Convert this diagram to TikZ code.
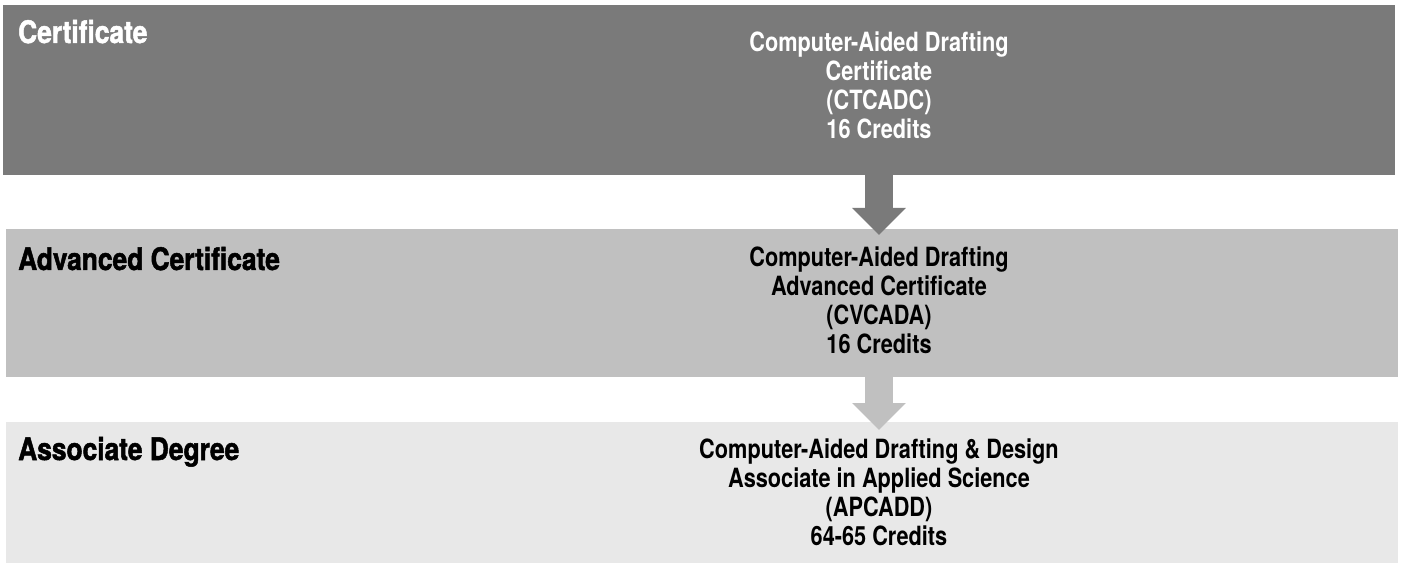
\documentclass[tikz,border=0pt]{standalone}
\usepackage{fontspec}
\setmainfont{TeX Gyre Heros}[FakeStretch=0.82]
\newfontfamily\headfont{TeX Gyre Heros}[FakeStretch=0.85, BoldFeatures={FakeBold=1.6}]
\usetikzlibrary{calc,arrows.meta}
\definecolor{certgray}{HTML}{7A7A7A}
\definecolor{advgray}{HTML}{C0C0C0}
\definecolor{assocgray}{HTML}{E8E8E8}
\tikzset{
  band/.style={draw=none, rectangle, inner sep=0pt, anchor=north west, minimum width=1392pt},
  head/.style={anchor=base west, inner sep=0pt, font=\headfont\bfseries\fontsize{31}{36}\selectfont},
  body/.style={anchor=north, inner sep=0pt, align=center, font=\bfseries\fontsize{26.5}{29}\selectfont},
  blockarrow/.style={draw=#1, line width=28pt, -{Triangle[width=52pt,length=27pt]}}
}

\begin{document}
\begin{tikzpicture}[x=1pt,y=-1pt]
  \useasboundingbox (0,0) rectangle (1401,564);

  % the three levels
  \node[band, fill=certgray, minimum height=170pt] (cert) at (3,5) {};
  \node[band, fill=advgray, minimum height=148pt] (adv) at (6,229) {};
  \node[band, fill=assocgray, minimum height=141pt] (assoc) at (6,422) {};

  \node[head, text=white] (certhead) at (18,43) {Certificate};
  \node[head] (advhead) at (18,270) {Advanced Certificate};
  \node[head] (assochead) at (18,460) {Associate Degree};

  \node[body, text=white] (certbody) at (879,32)
    {Computer-Aided Drafting\\Certificate\\(CTCADC)\\16 Credits};
  \node[body] (advbody) at (879,247)
    {Computer-Aided Drafting\\Advanced Certificate\\(CVCADA)\\16 Credits};
  \node[body] (assocbody) at (879,439)
    {Computer-Aided Drafting \& Design\\Associate in Applied Science\\(APCADD)\\64-65 Credits};

  % arrows between levels
  \coordinate (advtip) at ($(adv.north -| certbody.north)+(0,6)$);
  \coordinate (assoctip) at ($(assoc.north -| advbody.north)+(0,8)$);
  \draw[blockarrow=certgray] (cert.south -| certbody.north) -- (advtip);
  \draw[blockarrow=advgray] (adv.south -| advbody.north) -- (assoctip);
\end{tikzpicture}
\end{document}
